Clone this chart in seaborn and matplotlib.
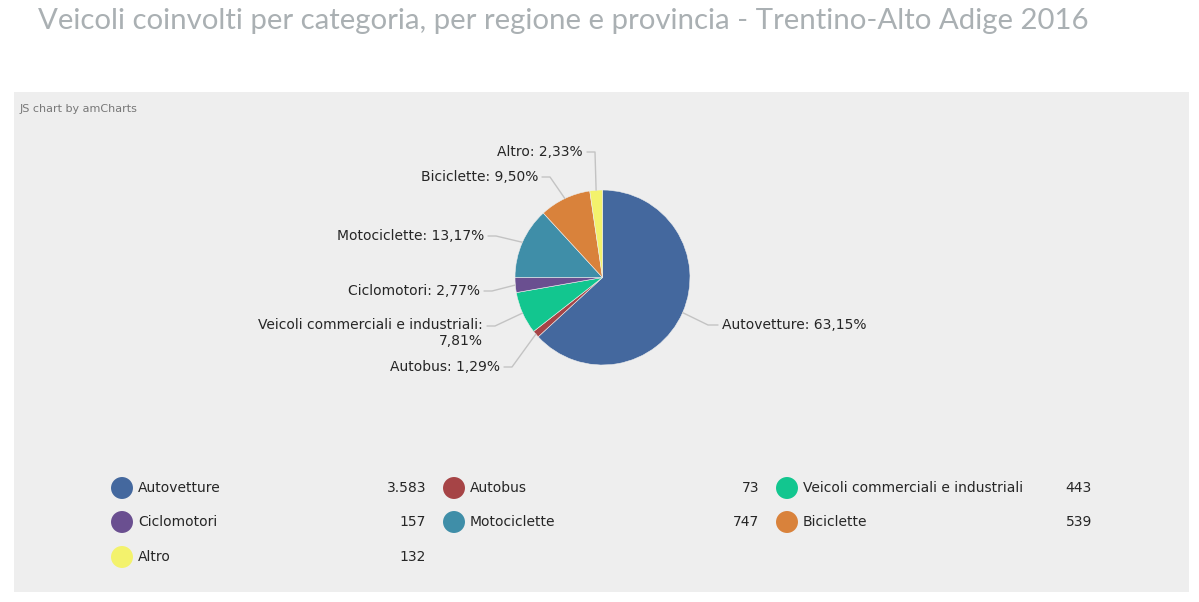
import matplotlib
matplotlib.use("Agg")
import matplotlib.pyplot as plt
import seaborn as sns
import pandas as pd
import numpy as np
from matplotlib.patches import Rectangle

# ---- data ----
categories = ["Autovetture", "Autobus", "Veicoli commerciali e industriali",
              "Ciclomotori", "Motociclette", "Biciclette", "Altro"]
values = [3583, 73, 443, 157, 747, 539, 132]
colors = ["#44689e", "#a64446", "#12c68f", "#6a4f90", "#3f8ea8", "#d9823b", "#f3f26c"]
title = "Veicoli coinvolti per categoria, per regione e provincia - Trentino-Alto Adige 2016"

W, H = 1199, 602
sns.set_theme(style="white")
plt.rcParams['font.family'] = ['DejaVu Sans']

fig = plt.figure(figsize=(W / 100, H / 100), dpi=100)
fig.patch.set_facecolor("white")
ax = fig.add_axes([0, 0, 1, 1])

def Y(y):
    return H - y

FS = 10

# panel
ax.add_patch(Rectangle((14, Y(592)), 1175, 500, facecolor="#eeeeee", edgecolor="none", zorder=0))

# pie
cx, cy, r = 602.5, 277.5, 87.5
wedges, _ = ax.pie(values, colors=colors, startangle=90, counterclock=False,
                   center=(cx, Y(cy)), radius=r,
                   wedgeprops=dict(linewidth=0.4, edgecolor="#eeeeee"))
ax.set_xlim(0, W)
ax.set_ylim(0, H)
ax.set_aspect("auto")
ax.axis("off")

total = sum(values)
def pct(v):
    return f"{v / total * 100:.2f}".replace(".", ",") + "%"

# label layout: (text x, text y, side)
label_layout = {
    "Autovetture": (722, 325, "left"),
    "Autobus": (500, 367, "right"),
    "Veicoli commerciali e industriali": (483, 326, "right"),
    "Ciclomotori": (480, 291, "right"),
    "Motociclette": (484, 236, "right"),
    "Biciclette": (538, 177, "right"),
    "Altro": (583, 152, "right"),
}
for w, cat, v in zip(wedges, categories, values):
    mid = np.deg2rad((w.theta1 + w.theta2) / 2)
    ex, ey = cx + r * np.cos(mid), Y(cy) + r * np.sin(mid)
    tx, ty, side = label_layout[cat]
    if cat == "Veicoli commerciali e industriali":
        txt = f"{cat}:\n{pct(v)}"
    else:
        txt = f"{cat}: {pct(v)}"
    if side == "left":
        p1, p2 = (tx - 4, Y(ty)), (tx - 14, Y(ty))
        ha = "left"
    else:
        p1, p2 = (tx + 4, Y(ty)), (tx + 12, Y(ty))
        ha = "right"
    ax.plot([p1[0], p2[0], ex], [p1[1], p2[1], ey], color="#c3c3c3", lw=1, zorder=1)
    if "\n" in txt:
        ax.text(tx, Y(ty) + 8, txt, ha=ha, va="top", fontsize=FS, color="#262626",
                linespacing=1.2, multialignment="right")
    else:
        ax.text(tx, Y(ty), txt, ha=ha, va="center", fontsize=FS, color="#262626")

# legend
col_x = [122, 454, 787]
val_x = [426, 759, 1092]
row_y = [488, 522, 557]
leg = []
for i, (cat, v, c) in enumerate(zip(categories, values, colors)):
    row, col = divmod(i, 3)
    leg.append(dict(x=col_x[col], y=Y(row_y[row]), cat=cat))
    ax.text(col_x[col] + 16, Y(row_y[row]), cat, ha="left", va="center", fontsize=FS, color="#262626")
    ax.text(val_x[col], Y(row_y[row]), f"{v:,}".replace(",", "."), ha="right", va="center",
            fontsize=FS, color="#262626")
legdf = pd.DataFrame(leg)
sns.scatterplot(data=legdf, x="x", y="y", hue="cat", palette=colors, s=250,
                linewidth=0, legend=False, ax=ax, zorder=3)
ax.set_xlim(0, W)
ax.set_ylim(0, H)
ax.set_xlabel("")
ax.set_ylabel("")
ax.axis("off")

ax.text(20, Y(109), "JS chart by amCharts", ha="left", va="center", fontsize=8, color="#777777")
ax.text(38, Y(21), title, ha="left", va="center", fontsize=21.2, color="#aab0b3",
        family=["Lato", "DejaVu Sans"])

fig.savefig("out.png", dpi=100, facecolor="white")
